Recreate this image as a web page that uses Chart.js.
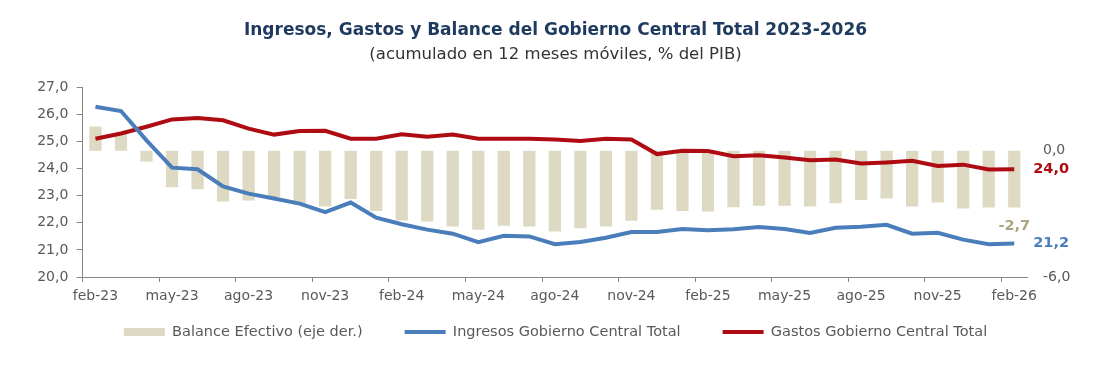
<!DOCTYPE html>
<html>
<head>
<meta charset="utf-8">
<script src="https://cdn.jsdelivr.net/npm/chart.js@4.4.1/dist/chart.umd.min.js"></script>
<style>
  html, body { margin: 0; padding: 0; background: #fff; }
  canvas { display: block; }
</style>
</head>
<body>
<canvas id="fiscalChart" width="1111" height="369"></canvas>
<script>
"use strict";

// meses (feb-23 .. feb-26)
var meses = [
    'feb-23', 'mar-23', 'abr-23', 'may-23', 'jun-23', 'jul-23', 'ago-23', 'sep-23', 'oct-23', 'nov-23', 'dic-23',
    'ene-24', 'feb-24', 'mar-24', 'abr-24', 'may-24', 'jun-24', 'jul-24', 'ago-24', 'sep-24', 'oct-24', 'nov-24', 'dic-24',
    'ene-25', 'feb-25', 'mar-25', 'abr-25', 'may-25', 'jun-25', 'jul-25', 'ago-25', 'sep-25', 'oct-25', 'nov-25', 'dic-25',
    'ene-26', 'feb-26'
];

// % del PIB
var balance = [
    1.15, 0.82, -0.52, -1.74, -1.83, -2.42, -2.37, -2.20, -2.57, -2.65, -2.30,
    -2.86, -3.32, -3.36, -3.60, -3.76, -3.57, -3.60, -3.84, -3.68, -3.60, -3.33, -2.81,
    -2.86, -2.89, -2.69, -2.62, -2.62, -2.65, -2.50, -2.34, -2.27, -2.65, -2.46, -2.75,
    -2.70, -2.70
];

var ingresos = [
    26.29, 26.13, 25.05, 24.04, 23.98, 23.35, 23.08, 22.90, 22.71, 22.40, 22.75,
    22.19, 21.95, 21.75, 21.60, 21.29, 21.52, 21.50, 21.21, 21.29, 21.45, 21.66, 21.66,
    21.77, 21.73, 21.76, 21.85, 21.77, 21.63, 21.82, 21.86, 21.93, 21.60, 21.63, 21.38,
    21.21, 21.24
];

var gastos = [
    25.11, 25.30, 25.55, 25.82, 25.87, 25.79, 25.48, 25.26, 25.39, 25.40, 25.11,
    25.11, 25.27, 25.18, 25.26, 25.11, 25.11, 25.11, 25.08, 25.02, 25.11, 25.08, 24.54,
    24.66, 24.65, 24.46, 24.50, 24.41, 24.31, 24.34, 24.19, 24.23, 24.29, 24.10, 24.15,
    23.97, 23.98
];

var colorBalance = '#DDD9C3';
var colorIngresos = '#4A7EBB';
var colorGastos = '#AE0C12';
var colorEje = '#868686';
var colorTexto = '#595959';

function coma(v) {
    return v.toFixed(1).replace('.', ',');
}

Chart.defaults.font.family = "'DejaVu Sans', Verdana, sans-serif";

// etiquetas con el ultimo valor de cada serie
var ultimoValor = {
    id: 'ultimoValor',
    afterDatasetsDraw: function (chart) {
        var ctx = chart.ctx;
        var last = meses.length - 1;
        ctx.save();
        ctx.font = "bold 14.5px 'DejaVu Sans'";
        ctx.textBaseline = 'middle';

        var barEl = chart.getDatasetMeta(0).data[last];
        ctx.fillStyle = '#ADA57F';
        ctx.textAlign = 'center';
        ctx.fillText(coma(balance[last]), barEl.x, barEl.y + 19);

        ctx.textAlign = 'left';
        var ingEl = chart.getDatasetMeta(1).data[last];
        ctx.fillStyle = colorIngresos;
        ctx.fillText(coma(ingresos[last]), ingEl.x + 19, ingEl.y);

        var gasEl = chart.getDatasetMeta(2).data[last];
        ctx.fillStyle = colorGastos;
        ctx.fillText(coma(gastos[last]), gasEl.x + 19, gasEl.y);
        ctx.restore();
    }
};

// la leyenda usa padding grande para separar items; la subimos para que quede cerca del eje
var subirLeyenda = {
    id: 'subirLeyenda',
    afterLayout: function (chart) {
        var lg = chart.legend;
        lg.top -= 24.25;
        lg.bottom -= 24.25;
    }
};

var chart = new Chart(document.getElementById('fiscalChart'), {
    type: 'bar',
    data: {
        labels: meses,
        datasets: [{
            type: 'bar',
            label: 'Balance Efectivo (eje der.)',
            data: balance,
            yAxisID: 'y1',
            backgroundColor: colorBalance,
            borderWidth: 0,
            barPercentage: 0.48,
            categoryPercentage: 1,
            order: 3
        }, {
            type: 'line',
            label: 'Ingresos Gobierno Central Total',
            data: ingresos,
            yAxisID: 'y',
            borderColor: colorIngresos,
            backgroundColor: colorIngresos,
            borderWidth: 4,
            pointRadius: 0,
            tension: 0,
            order: 1
        }, {
            type: 'line',
            label: 'Gastos Gobierno Central Total',
            data: gastos,
            yAxisID: 'y',
            borderColor: colorGastos,
            backgroundColor: colorGastos,
            borderWidth: 4,
            pointRadius: 0,
            tension: 0,
            order: 2
        }]
    },
    options: {
        responsive: false,
        animation: false,
        devicePixelRatio: 1,
        layout: { padding: { left: 0, right: 0, top: 0, bottom: 0 } },
        plugins: {
            title: {
                display: true,
                text: 'Ingresos, Gastos y Balance del Gobierno Central Total 2023-2026',
                color: '#1F3A5F',
                font: { size: 17, weight: 'bold' },
                padding: { top: 20.5, bottom: 0 }
            },
            subtitle: {
                display: true,
                text: '(acumulado en 12 meses móviles, % del PIB)',
                color: '#333333',
                font: { size: 16.5, weight: 'normal' },
                padding: { top: 3.5, bottom: 23.3 }
            },
            legend: {
                position: 'bottom',
                maxHeight: 62,
                labels: {
                    usePointStyle: true,
                    pointStyleWidth: 41,
                    boxHeight: 8,
                    padding: 42,
                    color: colorTexto,
                    font: { size: 14.5 },
                    sort: function (a, b) { return a.datasetIndex - b.datasetIndex; },
                    generateLabels: function (chart) {
                        var items = Chart.defaults.plugins.legend.labels.generateLabels(chart);
                        items.forEach(function (it) {
                            it.pointStyle = it.datasetIndex === 0 ? 'rect' : 'line';
                        });
                        return items;
                    }
                }
            },
            tooltip: { enabled: false }
        },
        scales: {
            x: {
                offset: true,
                afterFit: function (scale) { scale.height = 30; },
                border: { display: true, color: colorEje, width: 1 },
                grid: {
                    offset: true,
                    drawOnChartArea: false,
                    drawTicks: true,
                    tickLength: 5,
                    color: function (c) { return c.index % 3 === 0 ? colorEje : 'rgba(0,0,0,0)'; }
                },
                ticks: {
                    autoSkip: false,
                    maxRotation: 0,
                    padding: 6,
                    color: colorTexto,
                    font: { size: 14 },
                    callback: function (val, i) { return i % 3 === 0 ? meses[i] : ''; }
                }
            },
            y: {
                position: 'left',
                min: 20,
                max: 27,
                afterFit: function (scale) { scale.width = 82.7; },
                border: { display: true, color: colorEje, width: 1 },
                grid: { drawOnChartArea: false, drawTicks: true, tickLength: 6, color: colorEje },
                ticks: {
                    stepSize: 1,
                    padding: 8.4,
                    color: colorTexto,
                    font: { size: 14 },
                    callback: function (v) { return coma(v); }
                }
            },
            y1: {
                position: 'right',
                min: -6,
                max: 3,
                afterFit: function (scale) { scale.width = 1111 - 1027; },
                afterBuildTicks: function (scale) { scale.ticks = [{ value: -6 }, { value: 0 }]; },
                border: { display: false },
                grid: { display: false, drawTicks: false },
                ticks: {
                    padding: 16,
                    color: colorTexto,
                    font: { size: 14 },
                    callback: function (v) { return coma(v); }
                }
            }
        }
    },
    plugins: [ultimoValor, subirLeyenda]
});
</script>
</body>
</html>
